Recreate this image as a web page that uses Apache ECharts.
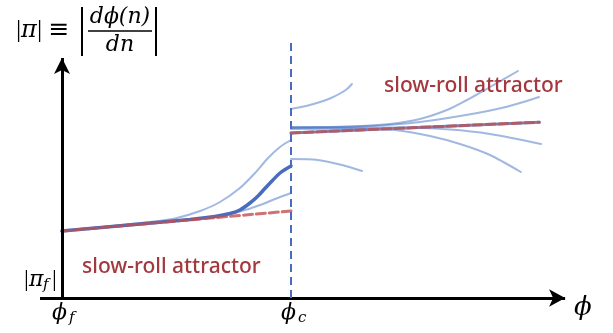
<!DOCTYPE html>
<html>
<head>
<meta charset="utf-8">
<script src="https://cdn.jsdelivr.net/npm/echarts@6/dist/echarts.min.js"></script>
<style>
  html, body { margin: 0; padding: 0; background: #fff; }
  #chart { width: 613px; height: 333px; }
</style>
</head>
<body>
<div id="chart"></div>
<script>
// Field value phi on x (phi_f = 0, phi_c = 1), |pi| on y.
const phiTickValues = [0, 1];
const phiTickLabels = ['ϕ', 'ϕ'];
const phiTickSubs = ['f', 'c'];

// Slow-roll attractors before and after the transition at phi_c
const attractorLeft = [[0, 0.67], [1, 0.87]];
const attractorRight = [[1, 1.65], [2.084, 1.758]];

// Trajectories approaching phi_c
const leftUpper = [[0, 0.67], [0.384, 0.76], [0.493, 0.795], [0.603, 0.87], [0.690, 0.96],
  [0.777, 1.10], [0.843, 1.25], [0.900, 1.40], [0.952, 1.51], [1.0, 1.58]];
const leftMain = [[0, 0.67], [0.559, 0.785], [0.668, 0.815], [0.734, 0.845], [0.777, 0.88],
  [0.821, 0.95], [0.856, 1.02], [0.886, 1.095], [0.917, 1.17], [0.952, 1.25], [1.0, 1.32]];
const leftLower = [[0, 0.67], [0.603, 0.794], [0.690, 0.824], [0.777, 0.865], [0.865, 0.93],
  [0.930, 0.99], [1.0, 1.05]];

// Trajectories after phi_c
const rightTop = [[1.0, 1.71], [1.258, 1.715], [1.432, 1.74], [1.563, 1.79], [1.681, 1.88],
  [1.760, 1.97], [1.869, 2.11], [1.991, 2.27]];
const rightSecond = [[1.0, 1.705], [1.345, 1.72], [1.563, 1.76], [1.738, 1.82], [1.900, 1.89],
  [2.0, 1.95], [2.083, 2.01]];
const rightLowerMid = [[1.0, 1.70], [1.476, 1.705], [1.694, 1.685], [1.869, 1.64], [2.092, 1.54]];
const rightLower = [[1.0, 1.69], [1.301, 1.695], [1.454, 1.68], [1.607, 1.62], [1.738, 1.54],
  [1.869, 1.43], [2.004, 1.26]];
const shortUpper = [[1.0, 1.89], [1.066, 1.92], [1.127, 1.96], [1.175, 2.0], [1.214, 2.045],
  [1.245, 2.09], [1.266, 2.14]];
const shortLower = [[1.0, 1.39], [1.118, 1.38], [1.223, 1.33], [1.31, 1.27]];

// Axis extents and the phi_c marker
const xAxisSpan = [-0.096, 2.197];
const yAxisTop = 2.40;
const phiCLineTop = 2.58;

const annotation = 'slow-roll attractor';

const LIGHT = 'rgba(68,114,196,0.5)';
const BLUE = '#4a6cc0';
const RED = 'rgba(192,80,77,0.8)';
const TEXT_RED = '#a3383e';
const SERIF = '"DejaVu Serif", "Liberation Serif", serif';
const TIMES = '"Liberation Serif", "DejaVu Serif", serif';

function curve(data, color, width, z, dash) {
  return {
    type: 'line', data: data, smooth: 0.3, showSymbol: false, silent: true, z: z,
    lineStyle: { color: color, width: width, type: dash || 'solid', cap: 'round' }
  };
}

const chart = echarts.init(document.getElementById('chart'), null, { renderer: 'canvas' });

const option = {
  animation: false,
  grid: { left: 39.1, right: 1.4, top: 0, bottom: 35 },
  xAxis: { type: 'value', min: -0.1, max: 2.4, show: false },
  yAxis: { type: 'value', min: 0, max: 2.98, show: false },
  series: [
    curve(leftUpper, LIGHT, 2, 2),
    curve(leftLower, LIGHT, 2, 2),
    curve(rightTop, LIGHT, 2, 2),
    curve(rightSecond, LIGHT, 2, 2),
    curve(rightLowerMid, LIGHT, 2, 2),
    curve(rightLower, LIGHT, 2, 2),
    curve(shortUpper, LIGHT, 2, 2),
    curve(shortLower, LIGHT, 2, 2),
    curve(leftMain, BLUE, 3.5, 3),
    curve(attractorRight, '#6f8bd0', 3, 3),
    curve(attractorLeft, RED, 3, 4, [9, 4]),
    curve(attractorRight, RED, 3, 4, [9, 4]),
    {
      type: 'line', data: [], silent: true, z: 5,
      markLine: {
        silent: true, animation: false, label: { show: false },
        data: [
          [
            { coord: [xAxisSpan[0], 0], symbol: 'none' },
            { coord: [xAxisSpan[1], 0], symbol: 'arrow', symbolSize: [13, 16] }
          ],
          [
            { coord: [0, 0], symbol: 'none' },
            { coord: [0, yAxisTop], symbol: 'arrow', symbolSize: [12, 16] }
          ]
        ],
        lineStyle: { color: '#000', width: 3, type: 'solid' }
      }
    },
    {
      type: 'line', data: [], silent: true, z: 6,
      markLine: {
        silent: true, animation: false, label: { show: false }, symbol: 'none',
        data: [[{ coord: [1, 0] }, { coord: [1, phiCLineTop] }]],
        lineStyle: { color: BLUE, width: 2, type: [8, 5] }
      }
    }
  ]
};
chart.setOption(option);

// Text annotations placed relative to the axes
const px = (x, y) => chart.convertToPixel({ gridIndex: 0 }, [x, y]);
const graphics = [];

function mathText(x, y, text, size, align, italic, family) {
  graphics.push({
    type: 'text', x: x, y: y, silent: true, z: 10,
    style: {
      text: text, fill: '#000',
      font: (italic === false ? '' : 'italic ') + size + 'px ' + (family || SERIF),
      textAlign: align || 'left', textVerticalAlign: 'middle'
    }
  });
}
function rule(x1, y1, x2, y2, w) {
  graphics.push({
    type: 'line', silent: true, z: 10,
    shape: { x1: x1, y1: y1, x2: x2, y2: y2 },
    style: { stroke: '#000', lineWidth: w }
  });
}

// phi tick labels under the x axis
phiTickValues.forEach((v, i) => {
  const p = px(v, 0);
  mathText(p[0] - 10, p[1] + 15, phiTickLabels[i], 22, 'left');
  mathText(p[0] + 7, p[1] + 20, phiTickSubs[i], 15, 'left');
});
// |pi_f| next to the y axis
{
  const p = px(0, 0);
  mathText(p[0] - 38, 280, '|', 24, 'left', false, TIMES);
  mathText(p[0] - 33, 280, 'π', 22, 'left');
  mathText(p[0] - 19, 285, 'f', 15, 'left');
  mathText(p[0] - 10, 280, '|', 24, 'left', false, TIMES);
}
// axis name of the field
{
  const p = px(xAxisSpan[1], 0);
  mathText(p[0] + 9, p[1] + 10, 'ϕ', 26, 'left');
}
// |pi| = |d phi(n) / dn|
mathText(16, 30, '|', 26, 'left', false, TIMES);
mathText(21, 31, 'π', 24, 'left');
mathText(37, 30, '|', 26, 'left', false, TIMES);
mathText(59, 30, '≡', 25, 'center', false);
rule(82, 7, 82, 56, 2);
rule(156, 7, 156, 56, 2);
mathText(120, 17, 'dϕ(n)', 22, 'center');
rule(88, 31, 152, 31, 1.6);
mathText(120, 45, 'dn', 22, 'center');

// attractor annotations
const textFont = '500 21px "Noto Sans", "Open Sans", sans-serif';
graphics.push({
  type: 'text', x: 82, y: 267, silent: true, z: 10,
  style: { text: annotation, fill: TEXT_RED, font: textFont, textVerticalAlign: 'middle' }
});
graphics.push({
  type: 'text', x: 384, y: 86, silent: true, z: 10,
  style: { text: annotation, fill: TEXT_RED, font: textFont, textVerticalAlign: 'middle' }
});

chart.setOption({ graphic: graphics });
</script>
</body>
</html>
